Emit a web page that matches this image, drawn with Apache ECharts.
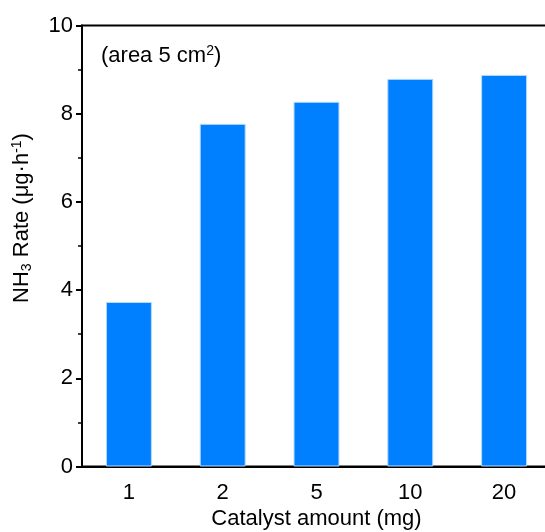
<!DOCTYPE html>
<html>
<head>
<meta charset="utf-8">
<script src="https://cdn.jsdelivr.net/npm/echarts@6/dist/echarts.min.js"></script>
<style>
  html, body { margin: 0; padding: 0; background: #fff; }
  #chart { width: 545px; height: 532px; }
</style>
</head>
<body>
<div id="chart"></div>
<script>
// Catalyst loading (mg) and the NH3 yield rate measured for each
const categories = ['1', '2', '5', '10', '20'];
const rates = [3.73, 7.77, 8.27, 8.79, 8.88];
const yTicks = [0, 2, 4, 6, 8, 10];

const FONT = 'Liberation Sans, Arial, sans-serif';
const chart = echarts.init(document.getElementById('chart'));

chart.setOption({
  animation: false,
  backgroundColor: '#fff',
  grid: {
    left: 82, top: 25.5, bottom: 65.5, width: 469,
    containLabel: false,
    outerBoundsMode: 'none',
    show: true, borderColor: '#000', borderWidth: 2, backgroundColor: 'transparent'
  },
  xAxis: {
    type: 'category',
    data: categories,
    name: 'Catalyst amount (mg)',
    nameLocation: 'middle',
    nameGap: 40,
    nameTextStyle: { fontFamily: FONT, fontSize: 22, color: '#000' },
    axisLine: { lineStyle: { color: '#000', width: 2 } },
    axisTick: { alignWithLabel: true, length: 6, lineStyle: { color: '#000', width: 2 } },
    axisLabel: { fontFamily: FONT, fontSize: 22, color: '#000', margin: 15 },
    splitLine: { show: false }
  },
  yAxis: {
    type: 'value',
    min: yTicks[0],
    max: yTicks[yTicks.length - 1],
    interval: 2,
    name: '{a|NH}{sub|3}{a| Rate (μg·h}{sup|-1}{a|)}',
    nameLocation: 'middle',
    nameGap: 48,
    nameRotate: 90,
    nameTextStyle: {
      fontFamily: FONT, fontSize: 22, color: '#000',
      padding: [0, 0, 0, 56],
      rich: {
        a: { fontFamily: FONT, fontSize: 22, color: '#000' },
        sub: { fontFamily: FONT, fontSize: 14, color: '#000', verticalAlign: 'bottom', padding: [10, 0, 0, 0] },
        sup: { fontFamily: FONT, fontSize: 14, color: '#000', verticalAlign: 'top', padding: [0, 0, 10, 0] }
      }
    },
    axisLine: { show: true, lineStyle: { color: '#000', width: 2 } },
    axisTick: { show: true, length: 6, lineStyle: { color: '#000', width: 2 } },
    minorTick: { show: true, splitNumber: 2, length: 4, lineStyle: { color: '#000', width: 1.5 } },
    axisLabel: { fontFamily: FONT, fontSize: 22, color: '#000', margin: 9 },
    splitLine: { show: false }
  },
  series: [{
    type: 'bar',
    data: rates,
    barWidth: '49%',
    itemStyle: { color: '#007fff', borderColor: '#b5dbff', borderWidth: 1 }
  }],
  graphic: [{
    type: 'text',
    left: 101,
    top: 44,
    style: {
      text: '{a|(area 5 cm}{sup|2}{a|)}',
      rich: {
        a: { fontFamily: FONT, fontSize: 22, fill: '#000' },
        sup: { fontFamily: FONT, fontSize: 14, fill: '#000', verticalAlign: 'top', padding: [0, 0, 10, 0] }
      }
    }
  }]
});
</script>
</body>
</html>
